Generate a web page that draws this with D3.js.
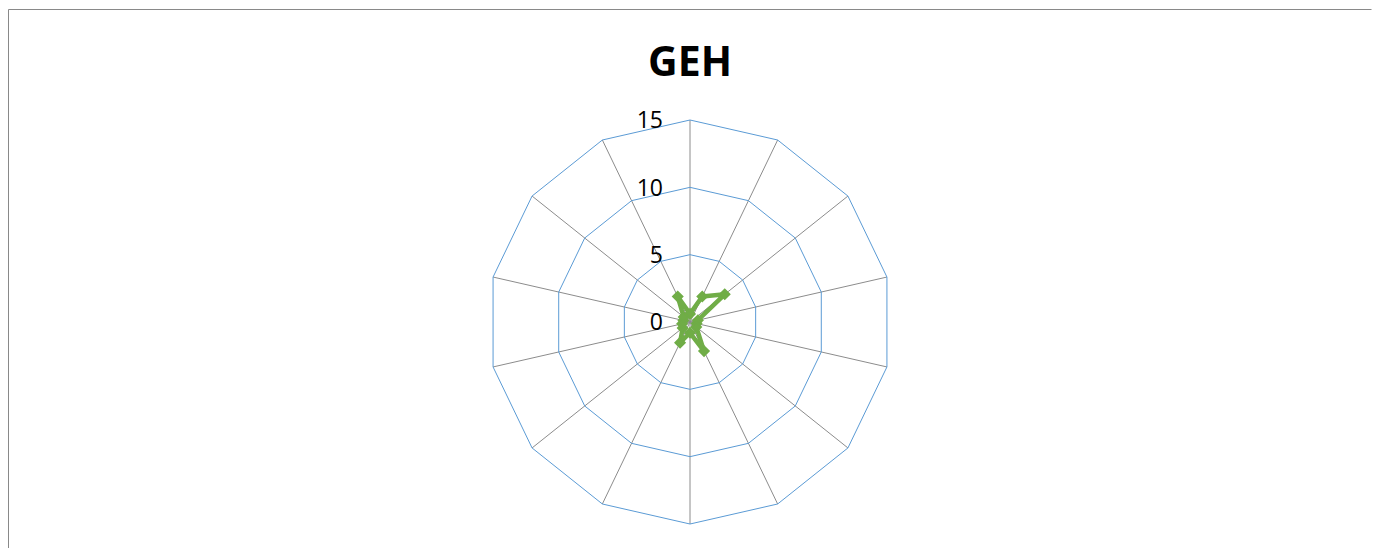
<!DOCTYPE html>
<html>
<head>
<meta charset="utf-8">
<script src="https://cdn.jsdelivr.net/npm/d3@7"></script>
<style>
  body { margin: 0; background: #fff; }
  svg { display: block; }
  .tick-label { font-family: "Open Sans", "Liberation Sans", sans-serif; font-size: 23px; fill: #000; }
</style>
</head>
<body>
<div id="chart"></div>
<script>
var width = 1380, height = 548;

// 14 categories around the radar (unlabelled in the reference)
var categories = ["1", "2", "3", "4", "5", "6", "7", "8", "9", "10", "11", "12", "13", "14"];
var gehValues = [0.6, 2.1, 3.3, 0.6, 0.5, 0.6, 2.4, 0.8, 1.7, 0.7, 0.6, 0.5, 0.6, 2.1];
var tickValues = [0, 5, 10, 15];

var cx = 690, cy = 322, radius = 202;

var svg = d3.select("#chart").append("svg")
    .attr("width", width)
    .attr("height", height);

// chart area border (top + left visible)
svg.append("path")
    .attr("d", "M8.5," + height + "V9.5H1371.5")
    .attr("fill", "none")
    .attr("stroke", "#898989")
    .attr("stroke-width", 1);

svg.append("text")
    .attr("x", cx)
    .attr("y", 76)
    .attr("text-anchor", "middle")
    .style("font-family", "\"Open Sans\", \"Liberation Sans\", sans-serif")
    .style("font-weight", "bold")
    .style("font-size", "41px")
    .text("GEH");

var r = d3.scaleLinear()
    .domain([0, 15])
    .range([0, radius]);

var angle = d3.scalePoint()
    .domain(categories)
    .range([0, 2 * Math.PI * (categories.length - 1) / categories.length]);

function pt(cat, v) {
  var a = angle(cat);
  return [cx + r(v) * Math.sin(a), cy - r(v) * Math.cos(a)];
}

var g = svg.append("g");

// spokes
g.selectAll(".spoke")
    .data(categories)
  .enter().append("line")
    .attr("class", "spoke")
    .attr("x1", cx)
    .attr("y1", cy)
    .attr("x2", function(d) { return pt(d, 15)[0]; })
    .attr("y2", function(d) { return pt(d, 15)[1]; })
    .attr("stroke", "#8c8c8c")
    .attr("stroke-width", 1);

// rings
var ring = d3.line();
g.selectAll(".ring")
    .data(tickValues.filter(function(t) { return t > 0; }))
  .enter().append("path")
    .attr("class", "ring")
    .attr("d", function(t) {
      return ring(categories.map(function(c) { return pt(c, t); })) + "Z";
    })
    .attr("fill", "none")
    .attr("stroke", "#5b9bd5")
    .attr("stroke-width", 1);

// tick labels
g.selectAll(".tick-label")
    .data(tickValues)
  .enter().append("text")
    .attr("class", "tick-label")
    .attr("x", cx - 27)
    .attr("y", function(t) { return cy - r(t); })
    .attr("dy", "0.36em")
    .attr("text-anchor", "end")
    .text(function(t) { return t; });

// data series
var series = categories.map(function(c, i) { return pt(c, gehValues[i]); });

g.append("path")
    .attr("d", ring(series) + "Z")
    .attr("fill", "none")
    .attr("stroke", "#70ad47")
    .attr("stroke-width", 4.5)
    .attr("stroke-linejoin", "round");

g.selectAll(".marker")
    .data(series)
  .enter().append("path")
    .attr("class", "marker")
    .attr("transform", function(d) { return "translate(" + d[0] + "," + d[1] + ") rotate(45)"; })
    .attr("d", d3.symbol().type(d3.symbolSquare).size(50))
    .attr("fill", "#70ad47")
    .attr("stroke", "#70ad47")
    .attr("stroke-width", 1.5);
</script>
</body>
</html>
